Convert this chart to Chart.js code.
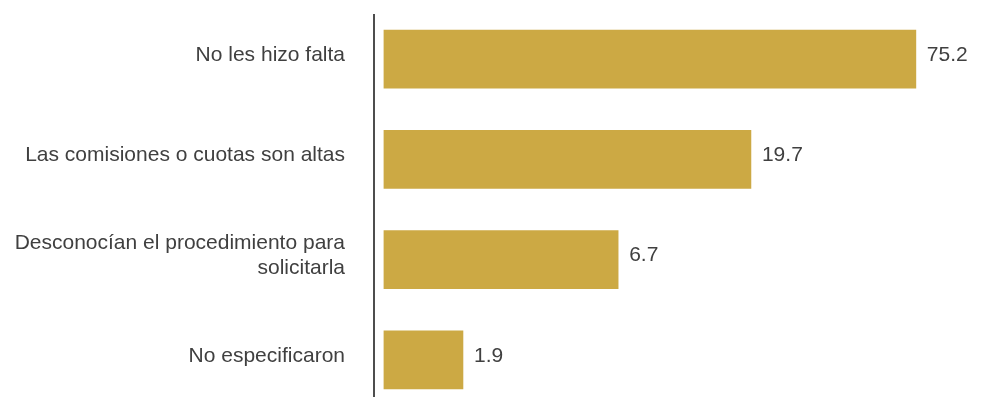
<!DOCTYPE html>
<html lang="es">
<head>
<meta charset="utf-8">
<title>Razones por las que no tienen</title>
<script src="https://cdn.jsdelivr.net/npm/chart.js@4.4.1/dist/chart.umd.min.js"></script>
<style>
  html, body { margin: 0; padding: 0; background: #fff; overflow: hidden; }
  #wrap { width: 983px; height: 410px; }
</style>
</head>
<body>
<div id="wrap"><canvas id="chart" width="983" height="410"></canvas></div>
<script>
const categories = [
  'No les hizo falta',
  'Las comisiones o cuotas son altas',
  ['Desconocían el procedimiento para', 'solicitarla'],
  'No especificaron'
];
const values = [75.2, 19.7, 6.7, 1.9];
const valueLabels = ['75.2', '19.7', '6.7', '1.9'];

const BAR_COLOR = '#cca944';
const TEXT_COLOR = '#404040';
const FONT = { family: '"Liberation Sans", Arial, sans-serif', size: 21 };

// vertical rule to the left of the bars
const axisLine = {
  id: 'axisLine',
  afterDraw(chart) {
    const { ctx, chartArea } = chart;
    ctx.save();
    ctx.strokeStyle = '#4d4d4d';
    ctx.lineWidth = 2;
    ctx.beginPath();
    ctx.moveTo(chartArea.left + 1, chartArea.top + 5);
    ctx.lineTo(chartArea.left + 1, chart.height);
    ctx.stroke();
    ctx.restore();
  }
};

// value written just past the end of each bar
const barValues = {
  id: 'barValues',
  afterDatasetsDraw(chart) {
    const { ctx } = chart;
    const meta = chart.getDatasetMeta(0);
    ctx.save();
    ctx.font = FONT.size + 'px ' + FONT.family;
    ctx.fillStyle = TEXT_COLOR;
    ctx.textAlign = 'left';
    ctx.textBaseline = 'middle';
    meta.data.forEach((bar, i) => {
      ctx.fillText(valueLabels[i], bar.x + 11, bar.y - 4);
    });
    ctx.restore();
  }
};

new Chart(document.getElementById('chart'), {
  type: 'bar',
  data: {
    labels: categories,
    datasets: [{
      data: values,
      base: 1,
      backgroundColor: BAR_COLOR,
      borderWidth: 0,
      barThickness: 58
    }]
  },
  options: {
    indexAxis: 'y',
    responsive: false,
    animation: false,
    layout: { padding: { top: 9, right: 10, bottom: 0, left: 0 } },
    plugins: {
      legend: { display: false },
      tooltip: { enabled: false }
    },
    scales: {
      x: {
        type: 'logarithmic',
        display: false,
        bounds: 'data',
        min: 0.915,
        max: 119.6
      },
      y: {
        grid: { display: false, drawTicks: false },
        border: { display: false },
        ticks: {
          color: TEXT_COLOR,
          font: FONT,
          padding: 28,
          labelOffset: -4,
          autoSkip: false
        },
        afterFit(scale) {
          scale.width = 373;
          scale.paddingTop = 0;
          scale.paddingBottom = 0;
        }
      }
    }
  },
  plugins: [axisLine, barValues]
});
</script>
</body>
</html>
